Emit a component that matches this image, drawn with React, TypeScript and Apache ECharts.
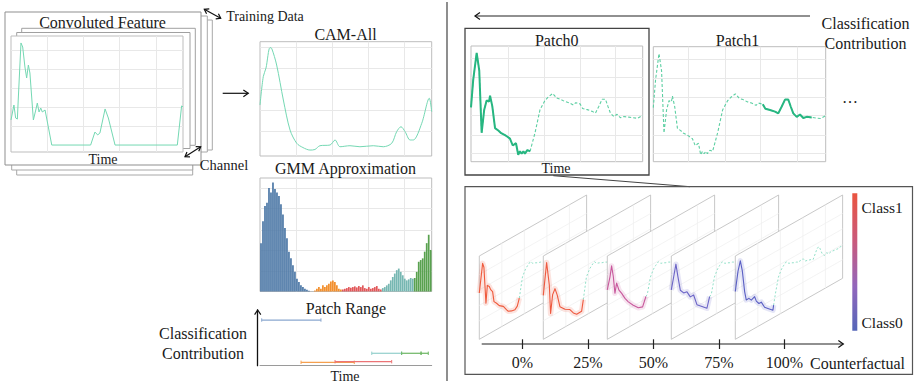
import React, { useEffect, useRef } from 'react';
import * as echarts from 'echarts';

const SERIF = '"Liberation Serif", "Times New Roman", Times, serif';

// ---------- data ----------
// Convoluted feature (one channel), time in % of series, value 0..1
const convTime = [0, 1.7, 2.7, 3.7, 4.2, 5.8, 6.8, 8.1, 9.1, 10.1, 11.0, 13.0, 14.4, 15.3, 16.3, 17.3, 18.2, 19.8, 21.7, 23.7, 46.3, 48.8, 50.4, 51.7, 54.7, 56.6, 60.5, 96.7, 99.2, 100];
const convValue = [0.276, 0.405, 0.293, 0.284, 0.448, 0.94, 0.905, 0.733, 0.638, 0.75, 0.681, 0.276, 0.362, 0.422, 0.345, 0.379, 0.345, 0.362, 0.216, 0.06, 0.06, 0.172, 0.147, 0.164, 0.371, 0.293, 0.06, 0.06, 0.397, 0.388];

// CAM aggregated over all training data
const camTime = [0, 1.9, 3.5, 5.8, 6.8, 9.7, 13.6, 17.5, 21.4, 25, 29.1, 32, 34.9, 40.8, 43.7, 46.6, 52.4, 58.2, 66.0, 71.8, 76.7, 79.6, 82.1, 84.5, 87.4, 89.3, 94.2, 98.6, 100];
const camValue = [0.446, 0.694, 0.77, 0.948, 0.942, 0.796, 0.49, 0.227, 0.111, 0.074, 0.052, 0.057, 0.09, 0.096, 0.14, 0.081, 0.09, 0.081, 0.09, 0.081, 0.111, 0.213, 0.256, 0.213, 0.14, 0.14, 0.286, 0.505, 0.388];

// GMM approximation histogram (86 bins) and component boundaries
const gmmHeights = [
  0.426, 0.619, 0.753, 0.783, 0.911, 0.872, 0.961, 0.902, 0.872, 0.842, 0.768, 0.679, 0.560, 0.470, 0.351, 0.292, 0.232, 0.173, 0.113, 0.083, 0.054, 0.039, 0.024, 0.015, 0.006, 0.0, 0.0,
  0.009, 0.024, 0.039, 0.024, 0.054, 0.039, 0.054, 0.068, 0.089, 0.098, 0.083, 0.054, 0.024, 0.018,
  0.018, 0.024, 0.030, 0.039, 0.033, 0.039, 0.045, 0.036, 0.048, 0.039, 0.054, 0.030, 0.024, 0.039, 0.024, 0.030, 0.039, 0.048, 0.024, 0.018,
  0.030, 0.039, 0.054, 0.068, 0.098, 0.128, 0.158, 0.188, 0.202, 0.173, 0.143, 0.113, 0.098, 0.107, 0.119, 0.113,
  0.119, 0.173, 0.262, 0.277, 0.292, 0.351, 0.426, 0.500, 0.366,
];
const gmmComponentEnds = [27, 41, 61, 77, 86];
const gmmPalette = ['#4e79a7', '#f28e2b', '#e15759', '#76b7b2', '#59a14f'];
const rangePalette = ['#8aa7cf', '#f5a04f', '#ec7476', '#92cfcb', '#6db663'];

// Patch ranges: start / end time (%), classification contribution, component
const rangeStart = [1.0, 23.9, 43.7, 65.1, 82.5, 93.8];
const rangeEnd = [35.5, 54.9, 76.7, 82.5, 93.8, 98.0];
const rangeContribution = [0.82, 0.061, 0.072, 0.223, 0.223, 0.223];
const rangeComponent = [0, 1, 2, 3, 4, 4];

// Sample series shown in the patches
const sampleTime = [0, 1.3, 3.3, 4.8, 6.2, 7.7, 9.1, 10.5, 11.1, 12.4, 14.0, 15.9, 17.3, 19.8, 20.8, 22.7, 24.3, 26.2, 27.5, 28.5, 29.5, 30.5, 31.4, 32.8, 34.4, 37.3, 40.2, 43.1, 45, 47.6, 49.9, 52, 54.7, 57, 59.6, 61, 63.5, 65, 67.7, 70.6, 72.5, 74.5, 76.4, 78.3, 79.7, 81.2, 83.2, 85.1, 87, 89, 91.9, 94.5, 97, 100];
const sampleValue = [0.47, 0.71, 0.94, 0.79, 0.25, 0.45, 0.53, 0.52, 0.57, 0.48, 0.29, 0.27, 0.25, 0.23, 0.22, 0.20, 0.14, 0.16, 0.06, 0.09, 0.07, 0.09, 0.07, 0.10, 0.09, 0.25, 0.45, 0.53, 0.56, 0.59, 0.55, 0.54, 0.52, 0.51, 0.49, 0.51, 0.50, 0.46, 0.45, 0.435, 0.42, 0.48, 0.54, 0.54, 0.48, 0.42, 0.39, 0.41, 0.38, 0.39, 0.385, 0.38, 0.375, 0.40];
const patchNames = ['Patch0', 'Patch1'];
const patchSpans = [[0, 34.4], [63.5, 92]];

// Counterfactual variants of Patch0 (0% .. 100%)
const cfLabels = ['0%', '25%', '50%', '75%', '100%'];
const cf0 = [[0, 0.56], [3.1, 0.92], [4.3, 0.86], [6.2, 0.38], [7.5, 0.60], [9.3, 0.57], [10.6, 0.52], [12.4, 0.48], [13.7, 0.34], [16.1, 0.30], [18.6, 0.25], [22.4, 0.21], [25.5, 0.14], [27, 0.11], [30.1, 0.09], [33.2, 0.08], [35.4, 0.11], [37.3, 0.20]];
const cf25 = [[0, 0.53], [3.1, 0.93], [5.6, 0.62], [6.8, 0.24], [8.7, 0.47], [10.9, 0.53], [13, 0.43], [15.5, 0.26], [20.2, 0.19], [24.8, 0.15], [28, 0.08], [31.1, 0.04], [35.7, 0.04], [37.3, 0.18]];
const cf50 = [[0, 0.60], [2.5, 0.75], [4, 0.88], [5.6, 0.73], [7.1, 0.50], [8.7, 0.62], [10.9, 0.51], [13.4, 0.45], [16.5, 0.36], [19.6, 0.29], [24.2, 0.21], [28.9, 0.14], [32.9, 0.12], [36, 0.23]];
const cf75 = [[0, 0.60], [2.2, 0.75], [4.3, 0.90], [6.2, 0.72], [8.4, 0.53], [11.5, 0.47], [14.6, 0.46], [17.7, 0.37], [20.8, 0.37], [23.9, 0.22], [28.6, 0.16], [33.2, 0.10], [35.7, 0.23]];
const cf100 = [[0, 0.58], [2.5, 0.82], [4.7, 0.94], [6.5, 0.80], [8.7, 0.51], [10.2, 0.39], [12.7, 0.39], [14.9, 0.35], [18, 0.37], [19.6, 0.30], [22, 0.25], [24.2, 0.25], [27.3, 0.16], [30.4, 0.12], [35.1, 0.06], [35.7, 0.12]];
const cfCurves = [cf0, cf25, cf50, cf75, cf100];
const cfColors = ['#ef5a3c', '#ee5a40', '#c8589c', '#6b64c6', '#5a5fc4'];

// Gridline positions (axis units)
const convGridX = [21.3, 42.0, 63.0, 84.3];
const convGridY = [0.218, 0.385, 0.549, 0.713, 0.879];
const camGridX = [21.4, 42.3, 63.1, 84.0];
const camGridY = [0.219, 0.402, 0.584, 0.767, 0.951];
const gmmGridY = [0.181, 0.363, 0.54, 0.73, 0.906];
const patch0GridX = [21.7, 42.5, 63.5, 84.3];
const patch1GridX = [20.3, 41.6, 62.3, 83.5];
const patchGridY = [0.067, 0.231, 0.398, 0.562, 0.729, 0.894];
const skewGridX = [21, 42, 63, 84];
const skewGridY = [0.2, 0.4, 0.6, 0.8];

// ---------- helpers ----------
const pairs = (ts: number[], vs: number[]) => ts.map((t, i) => [t, vs[i]]);
const samplePairs = pairs(sampleTime, sampleValue);

const SKEW_MIN = -0.04;
const SKEW_MAX = 1.04;
const PANEL_STEP = 64;
const PANEL_RISE = 61;

function gridLines(xi: number, yi: number, xs: number[], ys: number[]) {
  return {
    type: 'line', xAxisIndex: xi, yAxisIndex: yi, data: [], z: 1, silent: true, symbol: 'none',
    markLine: {
      silent: true, z: 1, symbol: ['none', 'none'], label: { show: false }, animation: false,
      lineStyle: { color: '#e8e8e8', width: 1, type: 'solid' },
      emphasis: { disabled: true },
      data: [...xs.map((x) => ({ xAxis: x })), ...ys.map((y) => ({ yAxis: y }))],
    },
  };
}

function head(tx: number, ty: number, fx: number, fy: number, len = 5.5, spread = 0.6, color = '#111', w = 1.2) {
  const n = Math.hypot(tx - fx, ty - fy);
  const bx = (fx - tx) / n, by = (fy - ty) / n;
  const c = Math.cos(spread), s = Math.sin(spread);
  const a1 = [tx + len * (bx * c - by * s), ty + len * (bx * s + by * c)];
  const a2 = [tx + len * (bx * c + by * s), ty + len * (-bx * s + by * c)];
  return { type: 'polyline', z: 6, shape: { points: [a1, [tx, ty], a2] }, style: { stroke: color, lineWidth: w, fill: 'none' } };
}

function seg(x1: number, y1: number, x2: number, y2: number, color = '#111', w = 1.2) {
  return { type: 'line', z: 6, shape: { x1, y1, x2, y2 }, style: { stroke: color, lineWidth: w } };
}

function txt(text: string, x: number, y: number, size = 16, align = 'center') {
  return {
    type: 'text', x, y, z: 10,
    style: { text, fontSize: size, fontFamily: SERIF, fill: '#1a1a1a', align, verticalAlign: 'middle', textAlign: align, textVerticalAlign: 'middle' },
  };
}

function frame(x: number, y: number, w: number, h: number, color: string, z: number, fill = '#fff', lw = 1) {
  return { type: 'rect', z, shape: { x, y, width: w, height: h }, style: { fill, stroke: color, lineWidth: lw } };
}

function buildOption() {
  const hiddenX = (gi: number, extra: any = {}) => ({ type: 'value', gridIndex: gi, min: 0, max: 100, show: false, ...extra });
  const hiddenY = (gi: number, min = 0, max = 1) => ({ type: 'value', gridIndex: gi, min, max, show: false });
  const frameGrid = { show: true, borderColor: '#bdbdbd', borderWidth: 1, backgroundColor: '#fff' };

  const compOf = (i: number) => gmmComponentEnds.findIndex((e) => i < e);

  const graphics: any[] = [
    // stacked training data / channel frames
    frame(16.7, 30, 176, 145, '#a8a8a8', -10),
    frame(11.7, 25, 181, 145, '#a8a8a8', -9),
    frame(22, 20, 190.3, 130, '#a8a8a8', -8),
    frame(17, 16, 190.3, 136, '#a8a8a8', -7),
    frame(5, 12, 196, 153, '#8f8f8f', -6),
    frame(21.7, 28.3, 173.6, 117, '#a0a0a0', -5),
    frame(16.7, 32.5, 173.3, 116, '#a0a0a0', -4),
    // training data arrow
    seg(204.3, 9.3, 220.7, 18.3), head(204.3, 9.3, 220.7, 18.3, 5), head(220.7, 18.3, 204.3, 9.3, 5),
    // channel arrow
    seg(185, 156.7, 200.7, 146.7), head(185, 156.7, 200.7, 146.7, 5), head(200.7, 146.7, 185, 156.7, 5),
    // conv -> CAM arrow
    seg(222.7, 93.3, 248.3, 93.3), head(248.3, 93.3, 222.7, 93.3, 6),
    // patch range y arrow head
    head(257.7, 310, 257.7, 340, 5.5),
    // divider
    seg(447, 2, 447, 381, '#444', 1.2),
    // top contribution arrow
    seg(475, 16, 810, 16, '#222', 1.2), head(475, 16, 810, 16, 6),
    // Patch0 highlight box and connector
    { type: 'rect', z: 6, shape: { x: 465, y: 28.3, width: 184, height: 146.7 }, style: { fill: 'none', stroke: '#444', lineWidth: 1.3 } },
    seg(553.3, 175.7, 690, 186.7, '#444', 1),
    // counterfactual box
    { type: 'rect', z: 6, shape: { x: 465, y: 186.7, width: 447.5, height: 187.6 }, style: { fill: 'none', stroke: '#555', lineWidth: 1.2 } },
    // counterfactual axis arrow
    seg(481.7, 344, 843.3, 344, '#222', 1.2), head(843.3, 344, 481.7, 344, 6),
    // colorbar
    {
      type: 'rect', z: 6, shape: { x: 852.3, y: 193.3, width: 5, height: 137.4 },
      style: {
        fill: { type: 'linear', x: 0, y: 0, x2: 0, y2: 1, colorStops: [
          { offset: 0, color: '#ea5440' }, { offset: 0.35, color: '#c95a7c' }, { offset: 0.68, color: '#9266bc' }, { offset: 1, color: '#5566b8' },
        ] },
      },
    },
    // texts
    txt('Convoluted Feature', 102.5, 22),
    txt('Time', 103, 159.5, 14),
    txt('Training Data', 265, 16, 14),
    txt('Channel', 224, 164.5, 14.5),
    txt('CAM-All', 345.5, 34),
    txt('GMM Approximation', 345.5, 168),
    txt('Patch Range', 346, 308.5),
    txt('Classification', 203, 333.5),
    txt('Contribution', 203, 353.5),
    txt('Time', 345, 376.5, 14),
    txt('Classification', 865.5, 23),
    txt('Contribution', 865.5, 43),
    txt(patchNames[0], 556.7, 40.5),
    txt(patchNames[1], 737.5, 40.5),
    txt('Time', 556, 168, 14),
    txt('…', 850, 97, 16),
    txt('Class1', 861.5, 207.5, 15.5, 'left'),
    txt('Class0', 861.5, 322, 15.5, 'left'),
    txt('Counterfactual', 857.5, 363.3),
  ];

  return {
    animation: false,
    backgroundColor: '#fff',
    grid: [
      { left: 11, top: 36, width: 172, height: 116, ...frameGrid },
      { left: 260, top: 41.7, width: 171.7, height: 114.3, ...frameGrid },
      { left: 260, top: 178, width: 171.7, height: 113.5, ...frameGrid },
      { left: 260, top: 310, width: 171.7, height: 55.7, show: false },
      { left: 471, top: 46, width: 171.7, height: 115.7, ...frameGrid },
      { left: 653.3, top: 46.7, width: 172.4, height: 115, ...frameGrid },
      { left: 479.3, top: 256, width: 107.3, height: 83.3, show: false },
      { left: 489.55, top: 300, width: 327.5, height: 39.3, show: false },
    ],
    xAxis: [
      hiddenX(0),
      hiddenX(1),
      { type: 'category', gridIndex: 2, data: gmmHeights.map((_, i) => String(i)), show: false, boundaryGap: true },
      hiddenX(2, { position: 'top' }),
      {
        type: 'value', gridIndex: 3, min: 0, max: 100,
        axisLine: { show: true, onZero: false, lineStyle: { color: '#9a9a9a', width: 1 } },
        axisTick: { show: false }, axisLabel: { show: false }, splitLine: { show: false },
      },
      hiddenX(4),
      hiddenX(5),
      hiddenX(6),
      {
        type: 'category', gridIndex: 7, data: cfLabels, boundaryGap: true,
        axisLine: { show: false },
        axisTick: { show: true, alignWithLabel: true, length: 9.7, lineStyle: { color: '#222', width: 1.2 } },
        axisLabel: { fontSize: 16, fontFamily: SERIF, color: '#1a1a1a', margin: 15.5 },
        splitLine: { show: false },
      },
    ],
    yAxis: [
      hiddenY(0),
      hiddenY(1),
      hiddenY(2),
      {
        type: 'value', gridIndex: 3, min: 0, max: 1, offset: 2.3,
        axisLine: { show: true, onZero: false, lineStyle: { color: '#111', width: 1.3 } },
        axisTick: { show: false }, axisLabel: { show: false }, splitLine: { show: false },
      },
      hiddenY(4),
      hiddenY(5),
      hiddenY(6, SKEW_MIN, SKEW_MAX),
      hiddenY(7),
    ],
    series: [
      gridLines(0, 0, convGridX, convGridY),
      {
        type: 'line', xAxisIndex: 0, yAxisIndex: 0, data: pairs(convTime, convValue), symbol: 'none', z: 2,
        lineStyle: { color: '#74d8b3', width: 1 },
      },
      gridLines(1, 1, camGridX, camGridY),
      {
        type: 'line', xAxisIndex: 1, yAxisIndex: 1, data: pairs(camTime, camValue), symbol: 'none', smooth: 0.3, z: 2,
        lineStyle: { color: '#74d8b3', width: 1 },
      },
      gridLines(3, 2, camGridX, gmmGridY),
      {
        type: 'bar', xAxisIndex: 2, yAxisIndex: 2, barCategoryGap: '14%', z: 2,
        data: gmmHeights.map((h, i) => ({ value: h, itemStyle: { color: gmmPalette[compOf(i)] } })),
      },
      {
        type: 'custom', xAxisIndex: 4, yAxisIndex: 3, z: 2,
        data: rangeStart.map((s, i) => [s, rangeEnd[i], rangeContribution[i]]),
        encode: { x: [0, 1], y: 2 },
        renderItem: (params: any, api: any) => {
          const i = params.dataIndex;
          const a = api.coord([api.value(0), api.value(2)]);
          const b = api.coord([api.value(1), api.value(2)]);
          const color = rangePalette[rangeComponent[i]];
          const h = 1.7;
          return {
            type: 'group',
            children: [
              { type: 'line', z2: i, shape: { x1: a[0], y1: a[1], x2: b[0], y2: b[1] }, style: { stroke: color, lineWidth: 1.2 } },
              { type: 'line', z2: i, shape: { x1: a[0], y1: a[1] - h, x2: a[0], y2: a[1] + h }, style: { stroke: color, lineWidth: 1 } },
              { type: 'line', z2: i, shape: { x1: b[0], y1: b[1] - h, x2: b[0], y2: b[1] + h }, style: { stroke: color, lineWidth: 1 } },
            ],
          };
        },
      },
      gridLines(5, 4, patch0GridX, patchGridY),
      {
        type: 'line', xAxisIndex: 5, yAxisIndex: 4, data: samplePairs, symbol: 'none', z: 2,
        lineStyle: { color: '#5ccfa2', width: 1.1, type: [3, 2] },
      },
      {
        type: 'line', xAxisIndex: 5, yAxisIndex: 4, symbol: 'none', z: 3,
        data: samplePairs.filter((p) => p[0] >= patchSpans[0][0] && p[0] <= patchSpans[0][1]),
        lineStyle: { color: '#27b681', width: 2 },
      },
      gridLines(6, 5, patch1GridX, patchGridY),
      {
        type: 'line', xAxisIndex: 6, yAxisIndex: 5, data: samplePairs, symbol: 'none', z: 2,
        lineStyle: { color: '#5ccfa2', width: 1.1, type: [3, 2] },
      },
      {
        type: 'line', xAxisIndex: 6, yAxisIndex: 5, symbol: 'none', z: 3,
        data: samplePairs.filter((p) => p[0] >= patchSpans[1][0] && p[0] <= patchSpans[1][1]),
        lineStyle: { color: '#27b681', width: 2 },
      },
      {
        type: 'custom', xAxisIndex: 7, yAxisIndex: 6, z: 2, clip: false,
        data: cfCurves.map((_, p) => [p, 0]),
        renderItem: (params: any, api: any) => {
          const p = api.value(0);
          const cs = params.coordSys;
          const shift = p * PANEL_STEP;
          const P = (t: number, v: number) => {
            const c = api.coord([t, v]);
            const u = (c[0] - cs.x) / cs.width;
            return [c[0] + shift, c[1] - PANEL_RISE * u];
          };
          const base = p * 20;
          const children: any[] = [];
          children.push({
            type: 'polygon', z2: base,
            shape: { points: [P(0, SKEW_MAX), P(100, SKEW_MAX), P(100, SKEW_MIN), P(0, SKEW_MIN)] },
            style: { fill: '#fff', stroke: '#c2c2c2', lineWidth: 0.9 },
          });
          skewGridX.forEach((t) => children.push({
            type: 'polyline', z2: base + 1, shape: { points: [P(t, SKEW_MIN), P(t, SKEW_MAX)] },
            style: { stroke: '#f0f0f0', lineWidth: 0.8, fill: 'none' },
          }));
          skewGridY.forEach((v) => children.push({
            type: 'polyline', z2: base + 1, shape: { points: [P(0, v), P(100, v)] },
            style: { stroke: '#f0f0f0', lineWidth: 0.8, fill: 'none' },
          }));
          const curve = cfCurves[p];
          const last = curve[curve.length - 1];
          const tail = [last, ...samplePairs.filter((q) => q[0] > last[0])];
          children.push({
            type: 'polyline', z2: base + 2, shape: { points: tail.map((q) => P(q[0], q[1])) },
            style: { stroke: '#86dcc2', lineWidth: 0.9, lineDash: [2, 2], fill: 'none' },
          });
          const pts = curve.map((q) => P(q[0], q[1]));
          children.push({
            type: 'polyline', z2: base + 3, shape: { points: pts },
            style: { stroke: cfColors[p], opacity: 0.16, lineWidth: 5.5, lineJoin: 'round', fill: 'none' },
          });
          children.push({
            type: 'polyline', z2: base + 4, shape: { points: pts },
            style: { stroke: cfColors[p], lineWidth: 1.1, lineJoin: 'round', fill: 'none' },
          });
          return { type: 'group', children };
        },
      },
    ],
    graphic: { elements: graphics },
  };
}

export default function App() {
  const ref = useRef<HTMLDivElement>(null);
  useEffect(() => {
    document.body.style.margin = '0';
    const chart = echarts.init(ref.current as HTMLDivElement, null, { renderer: 'svg' });
    chart.setOption(buildOption() as any);
    return () => chart.dispose();
  }, []);
  return <div ref={ref} style={{ position: 'fixed', left: 0, top: 0, width: 918, height: 383 }} />;
}
